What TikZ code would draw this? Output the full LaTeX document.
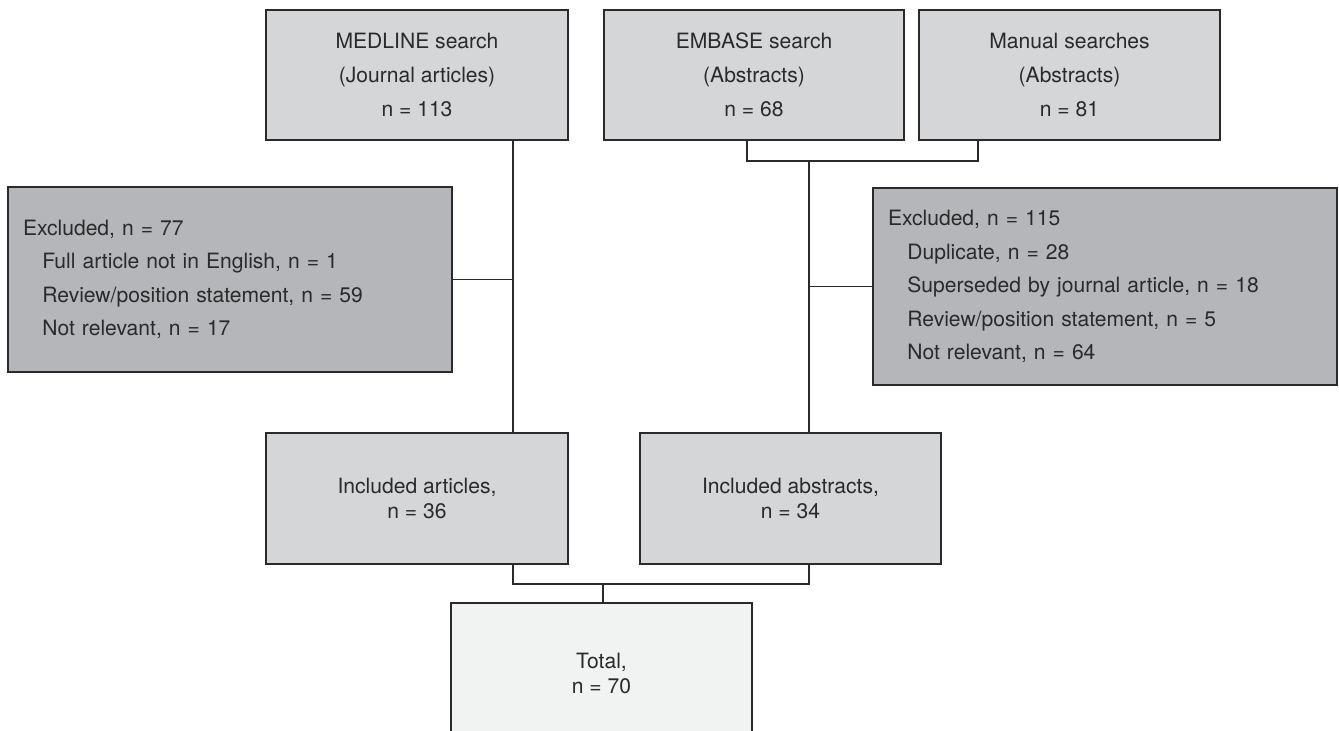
\documentclass[tikz,border=0pt]{standalone}
\usepackage{fontspec}
\setmainfont{TeX Gyre Heros}
\usepackage{tikz}

\definecolor{boxgray}{HTML}{D5D6D8}
\definecolor{exclgray}{HTML}{B5B6B9}
\definecolor{totalgray}{HTML}{F1F2F2}
\definecolor{inkgray}{HTML}{2B2A2B}

\tikzset{
	srcbox/.style={shape=rectangle,draw=inkgray,line width=1.1pt,fill=boxgray,
		text=inkgray,align=center,minimum height=2.6cm,
		font=\fontsize{12}{19.5}\selectfont},
	exclbox/.style={shape=rectangle,draw=inkgray,line width=1.1pt,fill=exclgray,
		text=inkgray,align=left,inner xsep=0.3cm,
		font=\fontsize{12}{19}\selectfont},
	inclbox/.style={shape=rectangle,draw=inkgray,line width=1.1pt,fill=boxgray,
		text=inkgray,align=center,minimum width=6.03cm,minimum height=2.62cm,
		font=\fontsize{12}{14.2}\selectfont},
	link/.style={draw=inkgray,line width=1.1pt}
}

\begin{document}
\begin{tikzpicture}
	
	\clip (0,0) rectangle (26.78,-14.62);
	
	\node[srcbox,minimum width=6.04cm] (medline) at (8.34,-1.5)   {MEDLINE search\\(Journal articles)\\n = 113};
	\node[srcbox,minimum width=6.0cm]  (embase)  at (15.08,-1.5)  {EMBASE search\\(Abstracts)\\n = 68};
	\node[srcbox,minimum width=6.02cm] (manual)  at (21.39,-1.5)  {Manual searches\\(Abstracts)\\n = 81};
	
	\node[exclbox,text width=8.28cm,minimum height=3.7cm] (exclL) at (4.6,-5.59) {Excluded, n = 77\\
		\hspace*{11pt}Full article not in English, n = 1\\
		\hspace*{11pt}Review/position statement, n = 59\\
		\hspace*{11pt}Not relevant, n = 17};
	\node[exclbox,text width=8.68cm,minimum height=3.94cm] (exclR) at (22.1,-5.73) {Excluded, n = 115\\
		\hspace*{11pt}Duplicate, n = 28\\
		\hspace*{11pt}Superseded by journal article, n = 18\\
		\hspace*{11pt}Review/position statement, n = 5\\
		\hspace*{11pt}Not relevant, n = 64};
	
	\node[inclbox] (incart) at (8.34,-9.97)  {Included articles,\\n = 36};
	\node[inclbox] (incabs) at (15.81,-9.97) {Included abstracts,\\n = 34};
	
	\node[inclbox,fill=totalgray,minimum height=2.8cm] (total) at (12.03,-13.46) {Total,\\n = 70};
	
	% junctions
	\coordinate (ja) at (14.94,-3.22);
	\coordinate (jm) at (19.56,-3.22);
	\coordinate (jt) at (16.18,-3.22);
	\coordinate (jl) at (10.26,-5.6);
	\coordinate (jb) at (12.06,-11.68);
	
	\path[link] (embase.south -| ja) |- (jm) -- (manual.south -| jm);
	\path[link] (jt) -- (incabs.north -| jt);
	\path[link] (exclR.west -| jt) -- (exclR.west);
	
	\path[link] (medline.south -| jl) -- (incart.north -| jl);
	\path[link] (exclL.east) -- (exclL.east -| jl);
	
	\path[link] (incart.south -| jl) |- (jb) -| (incabs.south -| jt);
	\path[link] (jb) -- (total.north -| jb);

\end{tikzpicture}
\end{document}
